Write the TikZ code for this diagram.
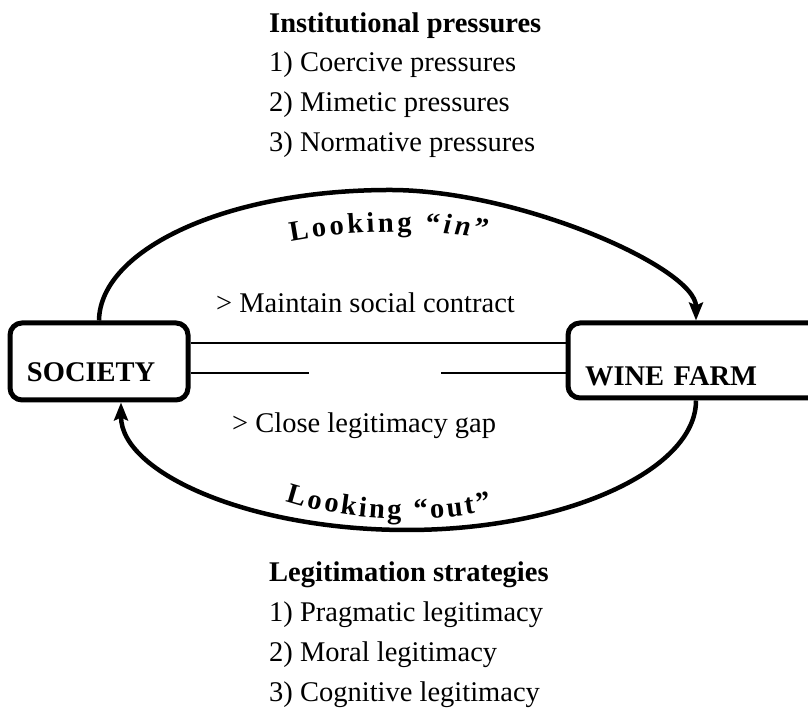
\documentclass[tikz,border=0pt]{standalone}
\usepackage{fontspec}
\setmainfont{Liberation Serif}
\usetikzlibrary{arrows.meta,decorations.text}

\newcommand{\bigtext}{\fontsize{28.5}{34}\selectfont}

\begin{document}
\begin{tikzpicture}[x=1pt, y=1pt, font=\bigtext,
  txt/.style={anchor=base west, inner sep=0pt},
  actor/.style={draw, line width=5pt, rounded corners=12pt, font=\bigtext\bfseries,
    inner ysep=0pt, inner xsep=17pt, align=left},
  link/.style={line width=1.2pt},
  flow/.style={line width=4.5pt, -{Stealth[length=18pt, width=14pt, inset=3pt]}}]
  % Page frame
  \useasboundingbox (0,0) rectangle (808,708);

  % Society and wine farm
  \node[actor, text width=144pt, text height=59pt, text depth=18pt] (society) at (99,346.5) {SOCIETY};
  \node[actor, text width=222pt, text height=63pt, text depth=12pt] (farm) at (696,347.5) {WINE FARM};

  % Links between the two
  \coordinate (upper) at (0,365);
  \coordinate (gapL) at (309,335);
  \coordinate (gapR) at (441,335);
  \draw[link] (society.east |- upper) -- (farm.west |- upper);
  \draw[link] (society.east |- gapL) -- (gapL);
  \draw[link] (gapR) -- (farm.west |- gapR);

  % Looking in (top) and looking out (bottom)
  \draw[flow] (society.north) .. controls (100,458) and (225,518) .. (390,518)
    .. controls (520,518) and (696,440) .. (farm.north);
  \draw[flow] (farm.south) .. controls (696,237) and (563,178) .. (407,178)
    .. controls (250,178) and (121,235) .. ([xshift=22pt]society.south);

  % Curved labels
  \path[decorate, decoration={text along path, text align=fit to path,
    text={|\bigtext\bfseries|Looking “|\bigtext\bfseries\itshape|in|\bigtext\bfseries|”}}]
    (398,385) ++(116.5:240 and 91) arc[start angle=116.5, end angle=68.2, x radius=240, y radius=91];
  \path[decorate, decoration={text along path, text align=fit to path,
    text={|\bigtext\bfseries|Looking “out”}}]
    (406,309) ++(238.4:229 and 120) arc[start angle=238.4, end angle=292, x radius=229, y radius=120];

  % Inner texts
  \node[txt] (maintain) at (216,395) {> Maintain social contract};
  \node[txt] (close) at (232,275) {> Close legitimacy gap};

  % Institutional pressures
  \node[txt] (instTitle) at (269,675) {\bfseries Institutional pressures};
  \node[txt] (inst1) at (269,636) {1) Coercive pressures};
  \node[txt] (inst2) at (269,596) {2) Mimetic pressures};
  \node[txt] (inst3) at (269,556) {3) Normative pressures};

  % Legitimation strategies
  \node[txt] (legTitle) at (269,126) {\bfseries Legitimation strategies};
  \node[txt] (leg1) at (269,86) {1) Pragmatic legitimacy};
  \node[txt] (leg2) at (269,46) {2) Moral legitimacy};
  \node[txt] (leg3) at (269,6) {3) Cognitive legitimacy};
\end{tikzpicture}
\end{document}
